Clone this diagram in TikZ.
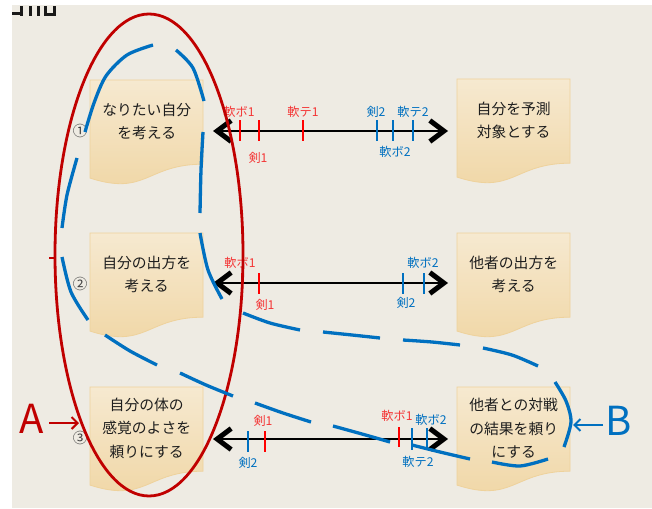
\documentclass[tikz,border=0pt]{standalone}
\usepackage{fontspec}
\setmainfont{Noto Sans CJK JP}
\usetikzlibrary{arrows.meta,calc}
\definecolor{bg}{HTML}{EEEBE3}
\definecolor{boxtop}{HTML}{F6E9D0}
\definecolor{boxbot}{HTML}{F0D6A4}
\definecolor{boxline}{HTML}{EED29C}
\definecolor{txt}{HTML}{1E1E1E}
\definecolor{tickred}{HTML}{FF0000}
\definecolor{labred}{HTML}{F43535}
\definecolor{myblue}{HTML}{0070C0}
\definecolor{darkred}{HTML}{C00000}
\newcommand\mydoc[4]{%
  \path[draw=boxline, line width=0.8pt, top color=boxtop, bottom color=boxbot]
    (#2,#3) -- ({#2+113},#3) -- ({#2+113},{#3+84.2})
    .. controls ({#2+56.5},{#3+84.2}) and ({#2+56.5},{#3+116.3}) .. (#2,{#3+98.1}) -- cycle;
  \node[docbox] (#1) at (#2,#3) {#4};}
\begin{document}
\begin{tikzpicture}[x=1pt,y=-1pt,
  docbox/.style={minimum width=113pt, minimum height=82pt, inner sep=0pt, align=center,
    font=\fontsize{14.8}{23.5}\selectfont, text=txt, anchor=north west},
  lab/.style={font=\fontsize{12.2}{12}\selectfont, inner sep=0pt},
  rlab/.style={lab, text=labred},
  blab/.style={lab, text=myblue},
  num/.style={font=\fontsize{14.5}{14}\selectfont, text=black!75, inner sep=0pt},
  axis/.style={line width=2.8pt, black,
    {Straight Barb[length=14pt,width=21pt,line width=5pt]}-{Straight Barb[length=14pt,width=21pt,line width=5pt]}},
  rtick/.style={line width=2.6pt, tickred},
  btick/.style={line width=2.6pt, myblue},
  bdash/.style={line width=3.3pt, myblue},
  ellA/.style={line width=2.8pt, darkred},
  big/.style={font=\fontsize{40}{40}\selectfont, inner sep=0pt, anchor=base}
]
\useasboundingbox (0,0) rectangle (652,508);
\fill[white] (0,0) rectangle (652,508);
\fill[bg] (12,5) rectangle (652,508);
% cut-off glyph fragments at the top
\fill[black!90] (12,12) rectangle (20,15.5);
\fill[black!90] (20,6) rectangle (23,16);
\fill[black!90] (29,6) rectangle (32,16);
\fill[black!90] (37,6) rectangle (40,16);
\fill[black!90] (44,6) rectangle (47,16);
\fill[black!90] (53,6) rectangle (56,14);
\fill[black!90] (47,13) rectangle (56,16);

% boxes
\mydoc{L1}{90}{80}{なりたい自分\\を考える}
\mydoc{L2}{90}{233}{自分の出方を\\考える}
\mydoc{L3}{90}{387}{自分の体の\\感覚のよさを\\頼りにする}
\mydoc{R1}{457}{79}{自分を予測\\対象とする}
\mydoc{R2}{457}{233}{他者の出方を\\考える}
\mydoc{R3}{457}{387}{他者との対戦\\の結果を頼り\\にする}

% circled numbers
\node[num] (n1) at (80,131) {①};
\node[num] (n2) at (80,284) {②};
\node[num] (n3) at (80,438) {③};

% axes
\coordinate (a1l) at (213,131); \coordinate (a1r) at (448,131);
\coordinate (a2l) at (213,283); \coordinate (a2r) at (448,283);
\coordinate (a3l) at (213,439); \coordinate (a3r) at (448,439);
\draw[axis] (a1l) -- (a1r);
\draw[axis] (a2l) -- (a2r);
\draw[axis] (a3l) -- (a3r);

% row 1 ticks and labels
\draw[rtick] (240,120) -- (240,141);
\draw[rtick] (259,120) -- (259,141);
\draw[rtick] (303,120) -- (303,141);
\draw[btick] (377,120) -- (377,141);
\draw[btick] (393,120) -- (393,141);
\draw[btick] (413,120) -- (413,141);
\node[rlab] (t1a) at (239,112) {軟ボ1};
\node[rlab] (t1b) at (258,158) {剣1};
\node[rlab] (t1c) at (303,112) {軟テ1};
\node[blab] (t1d) at (376,112) {剣2};
\node[blab] (t1e) at (413,112) {軟テ2};
\node[blab] (t1f) at (395,152) {軟ボ2};

% row 2
\draw[rtick] (242,273) -- (242,294);
\draw[rtick] (259,273) -- (259,294);
\draw[btick] (403,273) -- (403,294);
\draw[btick] (424,273) -- (424,294);
\node[rlab] (t2a) at (240,263) {軟ボ1};
\node[rlab] (t2b) at (265,305) {剣1};
\node[blab] (t2c) at (423,263) {軟ボ2};
\node[blab] (t2d) at (406,303) {剣2};

% row 3
\draw[btick] (248,431) -- (248,452);
\draw[rtick] (265,431) -- (265,452);
\draw[rtick] (399,427) -- (399,447);
\draw[btick] (412,428) -- (412,450);
\draw[btick] (427,428) -- (427,450);
\node[rlab] (t3a) at (263,421) {剣1};
\node[blab] (t3b) at (248,463) {剣2};
\node[rlab] (t3c) at (397,416) {軟ボ1};
\node[blab] (t3d) at (431,420) {軟ボ2};
\node[blab] (t3e) at (418,462) {軟テ2};

% ellipse A
\draw[ellA] (149,255) ellipse [x radius=94, y radius=241];
\draw[ellA, line width=2pt] (49,258) -- (54,258);

% dashed loop B
\draw[bdash] plot[smooth] coordinates {(85,132) (94,103) (106,76) (127,55) (153,45)};
\draw[bdash] plot[smooth] coordinates {(176,50) (193,68) (204,101)};
\draw[bdash] plot[smooth] coordinates {(203,132) (201,170) (200,213)};
\draw[bdash] plot[smooth] coordinates {(200,233) (208,270) (222,299)};
\draw[bdash] plot[smooth] coordinates {(243,313) (270,323) (300,330)};
\draw[bdash] plot[smooth] coordinates {(323,332) (352,335) (380,338)};
\draw[bdash] plot[smooth] coordinates {(403,340) (432,342) (460,345)};
\draw[bdash] plot[smooth] coordinates {(483,348) (512,355) (538,366)};
\draw[bdash] plot[smooth] coordinates {(555,382) (566,401) (571,422) (564,447)};
\draw[bdash] plot[smooth] coordinates {(548,459) (520,466) (492,462)};
\draw[bdash] plot[smooth] coordinates {(470,459) (440,452) (412,445)};
\draw[bdash] plot[smooth] coordinates {(390,442) (362,434) (333,426)};
\draw[bdash] plot[smooth] coordinates {(311,422) (283,413) (255,403)};
\draw[bdash] plot[smooth] coordinates {(233,396) (206,385) (180,373)};
\draw[bdash] plot[smooth] coordinates {(157,365) (130,351) (105,335)};
\draw[bdash] plot[smooth] coordinates {(88,320) (71,292) (62,257)};
\draw[bdash] plot[smooth] coordinates {(62,228) (67,195) (77,158)};

% A and B labels
\node[big, text=darkred] (Alab) at (32,433) {A};
\coordinate (Atail) at (49,423); \coordinate (Atip) at (79,423);
\draw[darkred, line width=2pt, -{Straight Barb[length=6pt,width=12pt]}] (Atail) -- (Atip);
\node[big, text=myblue] (Blab) at (619,435) {B};
\coordinate (Btail) at (603,425); \coordinate (Btip) at (573,425);
\draw[myblue, line width=2pt, -{Straight Barb[length=6pt,width=12pt]}] (Btail) -- (Btip);
\end{tikzpicture}
\end{document}
